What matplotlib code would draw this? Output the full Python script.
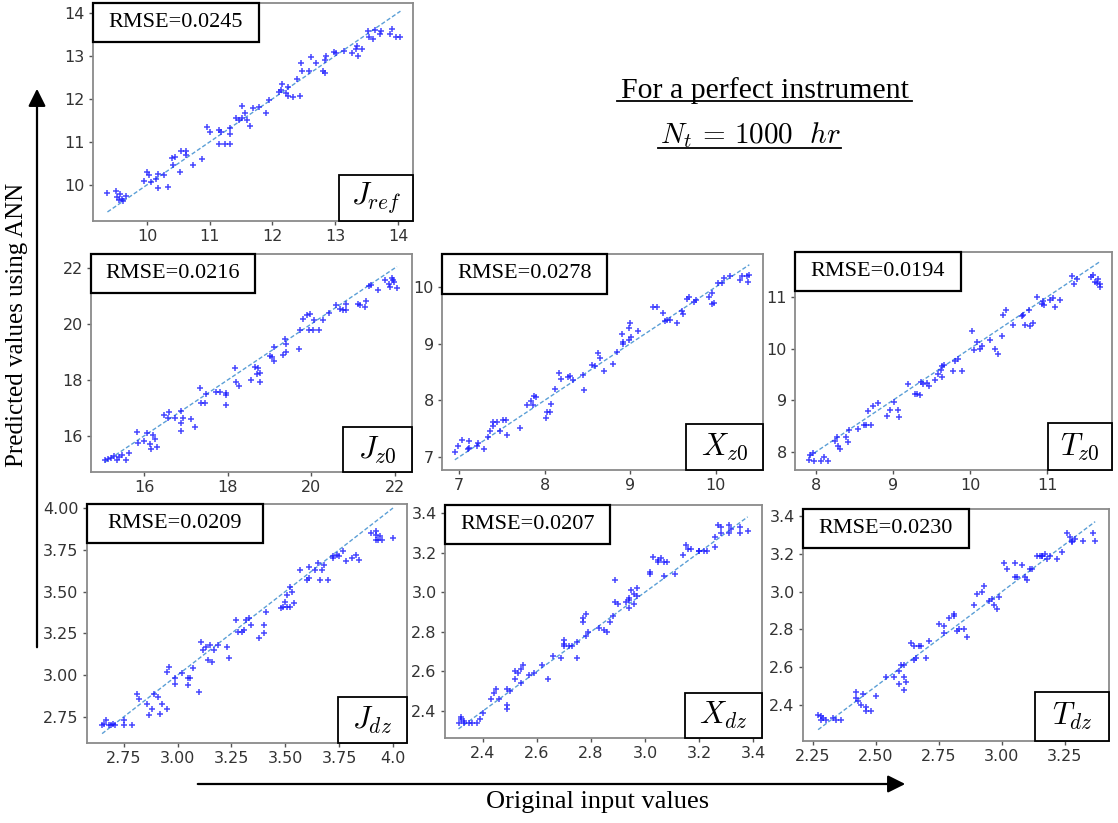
import numpy as np
import matplotlib
matplotlib.use("Agg")
import matplotlib.pyplot as plt
from matplotlib.patches import Rectangle, FancyArrowPatch

plt.rcParams['mathtext.fontset'] = 'cm'

# ---------------- data (true value, ANN prediction) ----------------
jref_x = [9.37, 9.5, 9.52, 9.55, 9.57, 9.6, 9.62, 9.67, 9.96, 10.0, 10.03, 10.07, 10.15, 10.18, 10.18,
          10.27, 10.33, 10.4, 10.44, 10.41, 10.55, 10.62, 10.63, 10.52, 10.73, 10.87, 10.95, 11.01, 11.15,
          11.18, 11.15, 11.24, 11.32, 11.33, 11.32, 11.42, 11.47, 11.51, 11.52, 11.56, 11.6, 11.64, 11.69,
          11.78, 11.9, 11.94, 12.1, 12.14, 12.16, 12.21, 12.25, 12.24, 12.33, 12.39, 12.44, 12.46, 12.47,
          12.58, 12.62, 12.7, 12.8, 12.83, 12.83, 12.86, 12.98, 13.01, 13.14, 13.27, 13.33, 13.35, 13.36,
          13.42, 13.52, 13.54, 13.61, 13.63, 13.71, 13.73, 13.87, 13.9, 13.97, 14.04]
jref_y = [9.81, 9.85, 9.72, 9.65, 9.78, 9.68, 9.62, 9.73, 10.08, 10.31, 10.23, 10.06, 10.13, 10.26, 9.92,
          10.23, 9.96, 10.62, 10.64, 10.47, 10.78, 10.7, 10.78, 10.31, 10.47, 10.6, 11.34, 11.24, 11.28,
          11.24, 10.95, 10.95, 11.18, 11.32, 10.95, 11.55, 11.51, 11.83, 11.55, 11.67, 11.51, 11.37, 11.79,
          11.81, 11.67, 11.98, 12.17, 12.21, 12.35, 12.14, 12.27, 12.06, 12.04, 12.47, 12.06, 12.84, 12.66,
          12.66, 12.97, 12.84, 12.64, 12.6, 12.91, 12.99, 13.09, 13.07, 13.12, 13.07, 13.17, 13.22, 13.0,
          13.15, 13.57, 13.45, 13.39, 13.6, 13.52, 13.57, 13.52, 13.63, 13.45, 13.45]

jz0_x = [15.06, 15.14, 15.22, 15.27, 15.35, 15.4, 15.48, 15.56, 15.64, 15.84, 15.86, 16.0, 16.06, 16.14,
         16.16, 16.22, 16.26, 16.3, 16.48, 16.57, 16.6, 16.73, 16.89, 16.89, 16.89, 16.93, 17.13, 17.21,
         17.33, 17.35, 17.45, 17.49, 17.73, 17.81, 17.95, 17.97, 17.95, 18.17, 18.21, 18.26, 18.57, 18.65,
         18.69, 18.73, 18.77, 18.77, 19.01, 19.07, 19.1, 19.12, 19.33, 19.37, 19.39, 19.39, 19.7, 19.73,
         19.81, 19.89, 19.98, 19.95, 20.05, 20.06, 20.19, 20.27, 20.43, 20.6, 20.68, 20.76, 20.83, 20.84,
         21.12, 21.16, 21.28, 21.32, 21.39, 21.43, 21.6, 21.76, 21.86, 21.88, 21.92, 21.96, 21.98, 22.05]
jz0_y = [15.14, 15.17, 15.2, 15.29, 15.14, 15.24, 15.32, 15.14, 15.38, 16.15, 15.74, 15.8, 16.12, 15.72,
         15.52, 16.04, 15.88, 15.6, 16.75, 16.63, 16.87, 16.63, 16.89, 16.45, 16.19, 16.63, 16.59, 16.33,
         17.7, 17.16, 17.16, 17.5, 17.58, 17.58, 17.54, 17.1, 17.46, 18.41, 17.94, 17.79, 18.0, 18.47,
         18.21, 18.41, 17.94, 18.23, 18.85, 18.83, 19.18, 18.69, 18.89, 19.48, 19.3, 19.0, 19.12, 19.8,
         20.17, 20.31, 20.35, 19.8, 19.78, 20.13, 19.8, 20.13, 20.4, 20.67, 20.55, 20.49, 20.7, 20.49,
         20.73, 20.69, 20.61, 20.81, 21.35, 21.41, 21.23, 21.58, 21.44, 21.32, 21.65, 21.58, 21.5, 21.3]

xz0_x = [6.95, 6.99, 7.03, 7.1, 7.12, 7.12, 7.21, 7.22, 7.29, 7.34, 7.36, 7.39, 7.4, 7.44, 7.48, 7.51,
         7.55, 7.56, 7.71, 7.79, 7.84, 7.86, 7.88, 7.9, 8.01, 8.03, 8.06, 8.07, 8.12, 8.17, 8.19, 8.27,
         8.3, 8.33, 8.45, 8.46, 8.55, 8.59, 8.62, 8.65, 8.69, 8.8, 8.84, 8.9, 8.91, 8.92, 8.98, 9.0, 8.99,
         9.01, 9.09, 9.27, 9.31, 9.38, 9.41, 9.43, 9.46, 9.54, 9.6, 9.62, 9.66, 9.69, 9.74, 9.77, 9.92,
         9.95, 9.95, 9.98, 10.03, 10.07, 10.09, 10.16, 10.28, 10.31, 10.36, 10.37, 10.39]
xz0_y = [7.09, 7.2, 7.3, 7.14, 7.28, 7.16, 7.2, 7.25, 7.14, 7.36, 7.45, 7.54, 7.61, 7.61, 7.45, 7.66,
         7.66, 7.39, 7.51, 7.92, 7.99, 7.91, 8.07, 8.06, 7.69, 7.8, 7.8, 7.94, 8.2, 8.48, 8.37, 8.41,
         8.42, 8.36, 8.45, 8.18, 8.62, 8.61, 8.83, 8.74, 8.52, 8.64, 8.86, 9.17, 9.03, 8.99, 9.27, 9.36,
         9.07, 9.12, 9.22, 9.64, 9.64, 9.54, 9.39, 9.41, 9.42, 9.37, 9.58, 9.52, 9.79, 9.82, 9.73, 9.76,
         9.83, 9.89, 9.7, 9.72, 10.06, 10.06, 10.15, 10.19, 10.13, 10.2, 10.2, 10.09, 10.21]

tz0_x = [7.91, 7.93, 7.96, 7.97, 8.07, 8.1, 8.16, 8.25, 8.28, 8.29, 8.31, 8.39, 8.42, 8.43, 8.55, 8.62,
         8.65, 8.72, 8.68, 8.74, 8.81, 8.92, 8.96, 9.02, 9.07, 9.08, 9.2, 9.29, 9.31, 9.35, 9.36, 9.39,
         9.44, 9.47, 9.54, 9.59, 9.62, 9.63, 9.66, 9.64, 9.78, 9.8, 9.84, 9.9, 10.02, 10.05, 10.09, 10.13,
         10.16, 10.26, 10.32, 10.36, 10.41, 10.43, 10.46, 10.56, 10.67, 10.69, 10.71, 10.77, 10.78, 10.81,
         10.87, 10.93, 10.95, 10.96, 11.03, 11.07, 11.1, 11.16, 11.32, 11.35, 11.39, 11.57, 11.6, 11.62,
         11.64, 11.66, 11.68, 11.69]
tz0_y = [7.84, 7.95, 7.97, 7.83, 7.83, 7.9, 7.83, 8.21, 8.28, 8.11, 8.05, 8.29, 8.19, 8.43, 8.44, 8.52,
         8.52, 8.52, 8.79, 8.88, 8.95, 8.69, 8.81, 8.96, 8.81, 8.68, 9.32, 9.12, 9.13, 9.1, 9.35, 9.31,
         9.34, 9.28, 9.4, 9.5, 9.58, 9.66, 9.68, 9.45, 9.57, 9.76, 9.79, 9.57, 10.34, 9.97, 10.12, 10.0,
         10.06, 10.17, 10.0, 9.9, 10.24, 10.65, 10.74, 10.46, 10.63, 10.66, 10.46, 10.75, 10.44, 10.5,
         11.0, 10.87, 10.92, 10.85, 10.94, 10.97, 10.81, 10.95, 11.4, 11.26, 11.35, 11.39, 11.43, 11.29,
         11.27, 11.34, 11.26, 11.19]

jdz_x = [2.65, 2.66, 2.67, 2.68, 2.69, 2.70, 2.71, 2.75, 2.75, 2.79, 2.81, 2.82, 2.86, 2.87, 2.88, 2.89,
         2.91, 2.93, 2.92, 2.95, 2.95, 2.96, 2.99, 2.99, 3.02, 3.05, 3.05, 3.06, 3.07, 3.10, 3.11, 3.12,
         3.13, 3.14, 3.15, 3.16, 3.17, 3.19, 3.23, 3.24, 3.27, 3.28, 3.30, 3.31, 3.32, 3.33, 3.34, 3.38,
         3.40, 3.40, 3.41, 3.48, 3.49, 3.50, 3.51, 3.51, 3.52, 3.52, 3.53, 3.54, 3.57, 3.60, 3.61, 3.61,
         3.64, 3.65, 3.66, 3.67, 3.68, 3.70, 3.72, 3.72, 3.74, 3.75, 3.77, 3.78, 3.81, 3.83, 3.84, 3.90,
         3.92, 3.92, 3.92, 3.93, 3.94, 3.95, 4.00]
jdz_y = [2.70, 2.71, 2.73, 2.70, 2.70, 2.71, 2.70, 2.73, 2.70, 2.70, 2.89, 2.86, 2.83, 2.76, 2.80, 2.89,
         2.87, 2.83, 2.77, 2.80, 3.02, 3.05, 2.98, 2.95, 3.01, 2.94, 2.98, 2.98, 3.04, 2.90, 3.20, 3.15,
         3.17, 3.09, 3.18, 3.08, 3.15, 3.18, 3.17, 3.10, 3.33, 3.26, 3.26, 3.27, 3.33, 3.34, 3.30, 3.22,
         3.30, 3.25, 3.38, 3.40, 3.41, 3.44, 3.41, 3.48, 3.53, 3.41, 3.50, 3.43, 3.63, 3.57, 3.58, 3.65,
         3.63, 3.67, 3.57, 3.63, 3.66, 3.57, 3.71, 3.70, 3.72, 3.71, 3.74, 3.68, 3.70, 3.72, 3.69, 3.85,
         3.86, 3.84, 3.81, 3.81, 3.83, 3.81, 3.82]

xdz_x = [2.31, 2.32, 2.32, 2.33, 2.33, 2.35, 2.36, 2.38, 2.39, 2.40, 2.43, 2.44, 2.45, 2.46, 2.49, 2.49,
         2.49, 2.50, 2.52, 2.52, 2.53, 2.54, 2.54, 2.55, 2.57, 2.59, 2.64, 2.62, 2.66, 2.69, 2.70, 2.70,
         2.70, 2.72, 2.73, 2.75, 2.75, 2.77, 2.77, 2.78, 2.78, 2.79, 2.83, 2.85, 2.86, 2.87, 2.88, 2.89,
         2.89, 2.90, 2.93, 2.94, 2.94, 2.94, 2.95, 2.96, 2.96, 2.97, 2.97, 3.02, 3.02, 3.03, 3.05, 3.05,
         3.06, 3.07, 3.07, 3.08, 3.11, 3.14, 3.15, 3.16, 3.17, 3.20, 3.20, 3.22, 3.23, 3.26, 3.26, 3.27,
         3.28, 3.28, 3.31, 3.31, 3.32, 3.35, 3.35, 3.38]
xdz_y = [2.34, 2.37, 2.36, 2.34, 2.35, 2.34, 2.34, 2.34, 2.36, 2.39, 2.46, 2.49, 2.51, 2.46, 2.43, 2.41,
         2.51, 2.50, 2.56, 2.60, 2.59, 2.54, 2.61, 2.63, 2.58, 2.59, 2.56, 2.63, 2.68, 2.67, 2.73, 2.74,
         2.76, 2.73, 2.73, 2.75, 2.67, 2.85, 2.87, 2.89, 2.78, 2.80, 2.82, 2.81, 2.80, 2.85, 2.88, 2.95,
         3.06, 2.94, 2.95, 2.96, 2.97, 2.92, 3.01, 2.99, 2.94, 3.02, 2.98, 3.10, 3.09, 3.18, 3.16, 3.15,
         3.17, 3.15, 3.08, 3.15, 3.09, 3.19, 3.24, 3.22, 3.22, 3.21, 3.21, 3.21, 3.21, 3.23, 3.28, 3.34,
         3.30, 3.33, 3.34, 3.30, 3.32, 3.33, 3.30, 3.31]

tdz_x = [2.27, 2.28, 2.29, 2.28, 2.30, 2.33, 2.34, 2.36, 2.42, 2.42, 2.43, 2.44, 2.46, 2.46, 2.48, 2.50,
         2.45, 2.54, 2.57, 2.59, 2.59, 2.60, 2.61, 2.61, 2.62, 2.61, 2.64, 2.65, 2.65, 2.66, 2.67, 2.68,
         2.70, 2.71, 2.75, 2.77, 2.77, 2.79, 2.81, 2.81, 2.82, 2.83, 2.85, 2.86, 2.89, 2.90, 2.92, 2.93,
         2.95, 2.96, 2.97, 2.98, 2.99, 3.01, 3.02, 3.05, 3.05, 3.06, 3.08, 3.09, 3.10, 3.11, 3.12, 3.14,
         3.15, 3.16, 3.16, 3.17, 3.18, 3.19, 3.22, 3.24, 3.26, 3.27, 3.28, 3.28, 3.29, 3.32, 3.36, 3.37]
tdz_y = [2.35, 2.34, 2.33, 2.32, 2.32, 2.33, 2.32, 2.32, 2.47, 2.44, 2.42, 2.40, 2.37, 2.39, 2.37, 2.45,
         2.46, 2.55, 2.55, 2.51, 2.58, 2.61, 2.55, 2.61, 2.52, 2.48, 2.73, 2.71, 2.64, 2.65, 2.71, 2.71,
         2.65, 2.74, 2.83, 2.82, 2.78, 2.86, 2.88, 2.87, 2.79, 2.80, 2.80, 2.76, 2.93, 2.99, 3.00, 3.03,
         2.95, 2.96, 2.93, 2.91, 2.97, 3.15, 3.12, 3.08, 3.15, 3.08, 3.14, 3.08, 3.06, 3.12, 3.12, 3.19,
         3.19, 3.19, 3.19, 3.20, 3.17, 3.19, 3.17, 3.21, 3.31, 3.29, 3.27, 3.26, 3.28, 3.27, 3.31, 3.27]

names = [r'$J_{ref}$', r'$J_{z0}$', r'$X_{z0}$', r'$T_{z0}$', r'$J_{dz}$', r'$X_{dz}$', r'$T_{dz}$']
rmse = ['0.0245', '0.0216', '0.0278', '0.0194', '0.0209', '0.0207', '0.0230']
xs = [jref_x, jz0_x, xz0_x, tz0_x, jdz_x, xdz_x, tdz_x]
ys = [jref_y, jz0_y, xz0_y, tz0_y, jdz_y, xdz_y, tdz_y]

xticks = [[10, 11, 12, 13, 14], [16, 18, 20, 22], [7, 8, 9, 10], [8, 9, 10, 11],
          [2.75, 3.00, 3.25, 3.50, 3.75, 4.0], [2.4, 2.6, 2.8, 3.0, 3.2, 3.4],
          [2.25, 2.50, 2.75, 3.00, 3.25]]
xticklabels = [['10', '11', '12', '13', '14'], ['16', '18', '20', '22'], ['7', '8', '9', '10'],
               ['8', '9', '10', '11'], ['2.75', '3.00', '3.25', '3.50', '3.75', '4.0'],
               ['2.4', '2.6', '2.8', '3.0', '3.2', '3.4'], ['2.25', '2.50', '2.75', '3.00', '3.25']]
yticks = [[10, 11, 12, 13, 14], [16, 18, 20, 22], [7, 8, 9, 10], [8, 9, 10, 11],
          [2.75, 3.00, 3.25, 3.50, 3.75, 4.00], [2.4, 2.6, 2.8, 3.0, 3.2, 3.4],
          [2.4, 2.6, 2.8, 3.0, 3.2, 3.4]]
yticklabels = [['10', '11', '12', '13', '14'], ['16', '18', '20', '22'], ['7', '8', '9', '10'],
               ['8', '9', '10', '11'], ['2.75', '3.00', '3.25', '3.50', '3.75', '4.00'],
               ['2.4', '2.6', '2.8', '3.0', '3.2', '3.4'], ['2.4', '2.6', '2.8', '3.0', '3.2', '3.4']]

# ---------------- layout (pixels in a 1118x823 canvas) ----------------
W, H = 1118, 823
ax_px = [(93, 3, 413, 221), (91, 254, 412, 472), (442, 254, 763, 470), (795, 252, 1112, 470),
         (87, 504, 407, 743), (445, 505, 762, 738), (803, 509, 1109, 741)]
xlims = [(9.14, 14.24), (14.73, 22.41), (6.80, 10.55), (7.73, 11.84),
         (2.58, 4.065), (2.26, 3.433), (2.21, 3.425)]
ylims = [(9.16, 14.23), (14.71, 22.5), (6.77, 10.58), (7.65, 11.87),
         (2.594, 4.024), (2.264, 3.44), (2.21, 3.437)]
rm_box = [(166, 39), (164, 39), (165, 40), (166, 39), (176, 39), (165, 39), (166, 39)]
nm_box = [(74, 46), (69, 45), (77, 46), (64, 47), (69, 46), (77, 45), (74, 49)]

fig = plt.figure(figsize=(W / 100, H / 100), dpi=100)


def fx(px):
    return px / W


def fy(py):
    return 1 - py / H


spine_col = '#8a8a8a'
for i in range(7):
    l, t, r, b = ax_px[i]
    ax = fig.add_axes([fx(l), fy(b), (r - l) / W, (b - t) / H])
    x = np.array(xs[i])
    y = np.array(ys[i])
    lo, hi = x.min(), x.max()
    ax.plot([lo, hi], [lo, hi], linestyle=(0, (3, 1.6)), color='#5b9fd6', lw=1.0, zorder=2)
    ax.plot(x, y, '+', color='#1a1aff', ms=4.5, mew=1.1, alpha=0.8, zorder=3)
    ax.set_xlim(*xlims[i])
    ax.set_ylim(*ylims[i])
    ax.set_xticks(xticks[i])
    ax.set_xticklabels(xticklabels[i])
    ax.set_yticks(yticks[i])
    ax.set_yticklabels(yticklabels[i])
    ax.tick_params(direction='out', length=3, width=1, color='#555555', labelsize=11.5,
                   labelcolor='#333333', pad=3)
    for s in ax.spines.values():
        s.set_color(spine_col)
        s.set_linewidth(1.3)

    bw, bh = rm_box[i]
    fig.add_artist(Rectangle((fx(l), fy(t + bh)), bw / W, bh / H, transform=fig.transFigure,
                             facecolor='white', edgecolor='black', lw=1.6, zorder=5))
    fig.text(fx(l + bw / 2), fy(t + bh / 2), 'RMSE=' + rmse[i], ha='center', va='center',
             family='Liberation Serif', fontsize=16, zorder=6)
    nw, nh = nm_box[i]
    fig.add_artist(Rectangle((fx(r - nw), fy(b)), nw / W, nh / H, transform=fig.transFigure,
                             facecolor='white', edgecolor='black', lw=1.3, zorder=5))
    fig.text(fx(r - nw / 2), fy(b - nh / 2), names[i], ha='center', va='center',
             fontsize=22, zorder=6)

# ---------------- titles / global labels ----------------
fig.text(fx(765), fy(98), 'For a perfect instrument', ha='center', va='baseline',
         family='Liberation Serif', fontsize=21.5)
fig.add_artist(plt.Line2D([fx(617), fx(912)], [fy(101), fy(101)], color='black', lw=1.3))
fig.text(fx(750), fy(143), r'$N_t\,=\,1000\ \ hr$', ha='center', va='baseline', fontsize=21)
fig.add_artist(plt.Line2D([fx(658), fx(841)], [fy(148), fy(148)], color='black', lw=1.3))

fig.text(fx(17), fy(325), 'Predicted values using ANN', rotation=90, ha='center', va='center',
         family='Liberation Serif', fontsize=18)
fig.text(fx(598), fy(802), 'Original input values', ha='center', va='center',
         family='Liberation Serif', fontsize=19)

fig.add_artist(FancyArrowPatch((fx(37), fy(650)), (fx(37), fy(86)),
                               transform=fig.transFigure, arrowstyle='-|>,head_length=7,head_width=3.5',
                               mutation_scale=1.5, color='black', lw=1.6))
fig.add_artist(FancyArrowPatch((fx(195), fy(784)), (fx(908), fy(784)),
                               transform=fig.transFigure, arrowstyle='-|>,head_length=7,head_width=3.5',
                               mutation_scale=1.5, color='black', lw=1.6))

fig.savefig('out.png', dpi=100)
